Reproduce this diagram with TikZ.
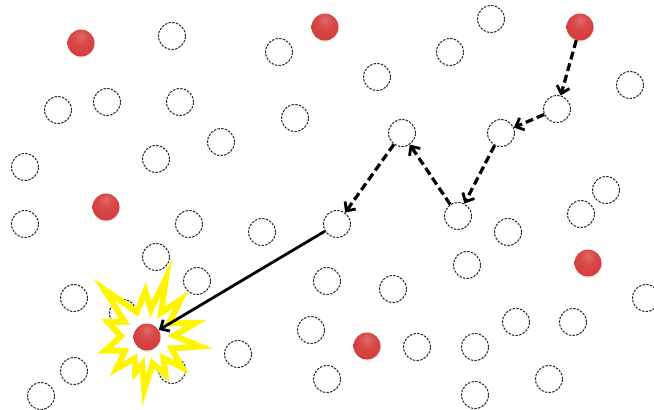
\documentclass[tikz,border=0pt]{standalone}
\usetikzlibrary{arrows.meta,shadows}

\definecolor{ballred}{RGB}{212,58,56}
\definecolor{blastyellow}{RGB}{255,245,0}
\pgfdeclareradialshading{redball}{\pgfpoint{0bp}{14bp}}{%
color(0bp)=(ballred!75!white);
color(14bp)=(ballred!92!white);
color(34bp)=(ballred);
color(52bp)=(ballred!88!black);
color(64bp)=(ballred!70!black);
color(80bp)=(ballred!70!black)}

\def\peersize{27pt}
\tikzstyle{peer} = [circle,
minimum size=\peersize,
inner sep=0pt,
draw=black!85,
line width=1pt,
dash pattern=on 2.4pt off 1.3pt,
fill=white]
\tikzstyle{hit} = [circle,
minimum size=\peersize,
inner sep=0pt,
shading=redball,
drop shadow={opacity=0.15, shadow xshift=0.4pt, shadow yshift=-1.5pt}]
\tikzstyle{hop} = [line width=3.2pt,
dash pattern=on 8pt off 4pt,
-{Straight Barb[length=7pt,width=13pt,line width=2.8pt]}]
\tikzstyle{jump} = [line width=2.8pt,
-{Straight Barb[length=7pt,width=13pt,line width=2.8pt]}]
\tikzstyle{blast} = [draw=blastyellow,
line width=6pt,
line join=miter,
fill=white]

\begin{document}
\begin{tikzpicture}[x=1pt, y=-1pt]
    \useasboundingbox (0,0) rectangle (654,410);
    %%%%%%%%%%%%%%%%%%%%%%%%%%%%%%%%%%%%%%%%
    % Peers
    %%%%%%%%%%%%%%%%%%%%%%%%%%%%%%%%%%%%%%%%
    \node (p1) [peer] at (172,36) {};
    \node (p2) [peer] at (279,52) {};
    \node (p3) [peer] at (58,110) {};
    \node (p4) [peer] at (107,102) {};
    \node (p5) [peer] at (180,102) {};
    \node (p6) [peer] at (295,118) {};
    \node (p7) [peer] at (221,142) {};
    \node (p8) [peer] at (156,159) {};
    \node (p9) [peer] at (25,167) {};
    \node (p10) [peer] at (491,19) {};
    \node (p11) [peer] at (450,52) {};
    \node (p12) [peer] at (377,77) {};
    \node (p13) [peer] at (630,85) {};
    \node (p14) [peer] at (606,190) {};
    \node (p15) [peer] at (581,214) {};
    \node (p16) [peer] at (25,224) {};
    \node (p17) [peer] at (189,224) {};
    \node (p18) [peer] at (262,232) {};
    \node (p19) [peer] at (156,257) {};
    \node (p20) [peer] at (197,281) {};
    \node (p21) [peer] at (74,298) {};
    \node (p22) [peer] at (123,313) {};
    \node (p23) [peer] at (172,370) {};
    \node (p24) [peer] at (238,354) {};
    \node (p25) [peer] at (74,371) {};
    \node (p26) [peer] at (41,396) {};
    \node (p27) [peer] at (327,281) {};
    \node (p28) [peer] at (311,330) {};
    \node (p29) [peer] at (327,379) {};
    \node (p30) [peer] at (508,232) {};
    \node (p31) [peer] at (467,265) {};
    \node (p32) [peer] at (393,289) {};
    \node (p33) [peer] at (646,298) {};
    \node (p34) [peer] at (516,322) {};
    \node (p35) [peer] at (573,322) {};
    \node (p36) [peer] at (417,347) {};
    \node (p37) [peer] at (475,347) {};
    \node (p38) [peer] at (549,379) {};
    \node (p39) [peer] at (475,395) {};
    %%%%%%%%%%%%%%%%%%%%%%%%%%%%%%%%%%%%%%%%
    % Walk
    %%%%%%%%%%%%%%%%%%%%%%%%%%%%%%%%%%%%%%%%
    \node (hop1) [peer] at (557,109) {};
    \node (hop2) [peer] at (501,133) {};
    \node (hop3) [peer] at (458,216) {};
    \node (hop4) [peer] at (402,133) {};
    \node (hop5) [peer] at (337,224) {};
    %%%%%%%%%%%%%%%%%%%%%%%%%%%%%%%%%%%%%%%%
    % Blast
    %%%%%%%%%%%%%%%%%%%%%%%%%%%%%%%%%%%%%%%%
    \coordinate (boom) at (147,337);
    \draw [blast] (boom) +(-16:50) -- +(-32:26) -- +(-48:50) -- +(-60:28)
        -- +(-72:62) -- +(-82:28) -- +(-92:46) -- +(-112:27)
        -- +(-132:64) -- +(-146:27) -- +(-159:42) -- +(-178:26)
        -- +(-198:44) -- +(-212:26) -- +(-226:44) -- +(-240:25)
        -- +(-252:38) -- +(-260:28) -- +(-267:53) -- +(-282:27)
        -- +(-296:42) -- +(-308:27) -- +(-319:46) -- +(-335:27)
        -- +(-350:54) -- +(-3:27) -- cycle;
    %%%%%%%%%%%%%%%%%%%%%%%%%%%%%%%%%%%%%%%%
    % Hits
    %%%%%%%%%%%%%%%%%%%%%%%%%%%%%%%%%%%%%%%%
    \node (red1) [hit] at (81,43) {};
    \node (red2) [hit] at (325,27) {};
    \node (red3) [hit] at (106,207) {};
    \node (red4) [hit] at (588,263) {};
    \node (red5) [hit] at (367,346) {};
    \node (src) [hit] at (580,27) {};
    \node (dst) [hit] at (boom) {};
    \draw [hop] (src) -- (hop1);
    \draw [hop] (hop1) -- (hop2);
    \draw [hop] (hop2) -- (hop3);
    \draw [hop] (hop3) -- (hop4);
    \draw [hop] (hop4) -- (hop5);
    \draw [jump] (hop5) -- (dst);
\end{tikzpicture}
\end{document}
